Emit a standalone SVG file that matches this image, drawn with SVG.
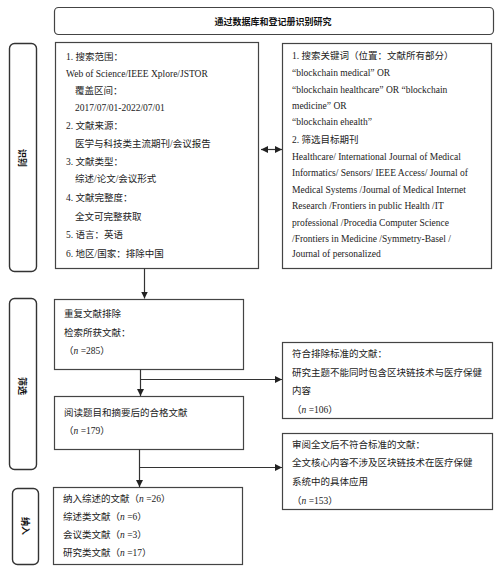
<svg xmlns="http://www.w3.org/2000/svg" width="501" height="571" viewBox="0 0 501 571">
<style>
.box{fill:#fff;stroke:#444;stroke-width:1.2}
.side{fill:#fff;stroke:#333;stroke-width:1.4}
.t{font-family:"Liberation Serif","Noto Sans CJK SC",serif;font-size:9.5px;fill:#222}
.b{font-family:"Noto Sans CJK SC","Liberation Sans",sans-serif;font-size:9px;font-weight:bold;fill:#111}
.c{fill:none;stroke:#333;stroke-width:1.2}
</style>
<defs>
<marker id="ah" viewBox="0 0 10 10" refX="10" refY="5" markerWidth="7" markerHeight="7" orient="auto-start-reverse" markerUnits="userSpaceOnUse">
<path d="M0,0L10,5L0,10z" fill="#222"/>
</marker>
</defs>
<rect width="501" height="571" fill="#fff"/>
<g id="title">
<rect class="box" x="54.5" y="7.5" width="439" height="27" rx="4"/>
<text class="b" x="273" y="25" text-anchor="middle">通过数据库和登记册识别研究</text>
</g>
<g id="side1">
<rect class="side" x="9.5" y="43.5" width="27" height="228" rx="5"/>
<text class="b" transform="translate(19,158) rotate(90)" text-anchor="middle">识别</text>
</g>
<g id="side2">
<rect class="side" x="9.5" y="298.5" width="27" height="171" rx="5"/>
<text class="b" transform="translate(19,386) rotate(90)" text-anchor="middle">筛选</text>
</g>
<g id="side3">
<rect class="side" x="12.5" y="488.5" width="26" height="76" rx="5"/>
<text class="b" transform="translate(22,526) rotate(90)" text-anchor="middle">纳入</text>
</g>
<g id="search">
<rect class="box" x="55.5" y="42.5" width="203" height="226"/>
<text class="t" x="66" y="59.5">1. 搜索范围：</text>
<text class="t" x="66" y="76.5">Web of Science/IEEE Xplore/JSTOR</text>
<text class="t" x="75" y="93.5">覆盖区间：</text>
<text class="t" x="75" y="110.5">2017/07/01-2022/07/01</text>
<text class="t" x="66" y="128.5">2. 文献来源：</text>
<text class="t" x="75" y="146.5">医学与科技类主流期刊/会议报告</text>
<text class="t" x="66" y="164.5">3. 文献类型：</text>
<text class="t" x="75" y="181.5">综述/论文/会议形式</text>
<text class="t" x="66" y="200.5">4. 文献完整度：</text>
<text class="t" x="75" y="219.5">全文可完整获取</text>
<text class="t" x="66" y="237.5">5. 语言：英语</text>
<text class="t" x="66" y="256.5">6. 地区/国家：排除中国</text>
</g>
<g id="keywords">
<rect class="box" x="282.5" y="43.5" width="209" height="225"/>
<text class="t" x="292" y="58.5">1. 搜索关键词（位置：文献所有部分）</text>
<text class="t" x="292" y="75.5">“blockchain medical” OR</text>
<text class="t" x="292" y="92.5">“blockchain healthcare” OR “blockchain</text>
<text class="t" x="292" y="108.5">medicine” OR</text>
<text class="t" x="292" y="124.5">“blockchain ehealth”</text>
<text class="t" x="292" y="142.5">2. 筛选目标期刊</text>
<text class="t" x="292" y="159.5">Healthcare/ International Journal of Medical</text>
<text class="t" x="292" y="175.5">Informatics/ Sensors/ IEEE Access/ Journal of</text>
<text class="t" x="292" y="192.5">Medical Systems /Journal of Medical Internet</text>
<text class="t" x="292" y="208.5">Research /Frontiers in public Health /IT</text>
<text class="t" x="292" y="225.5">professional /Procedia Computer Science</text>
<text class="t" x="292" y="241.5">/Frontiers in Medicine /Symmetry-Basel /</text>
<text class="t" x="292" y="256.5">Journal of personalized</text>
</g>
<g id="dedup">
<rect class="box" x="54.5" y="299.5" width="189" height="70"/>
<text class="t" x="64" y="316.5">重复文献排除</text>
<text class="t" x="64" y="335.5">检索所获文献：</text>
<text class="t" x="64" y="353.5">（<tspan font-style="italic">n</tspan> =285）</text>
</g>
<g id="excl1">
<rect class="box" x="282.5" y="342.5" width="210" height="76"/>
<text class="t" x="292" y="356.5">符合排除标准的文献：</text>
<text class="t" x="292" y="375.5">研究主题不能同时包含区块链技术与医疗保健</text>
<text class="t" x="292" y="393.5">内容</text>
<text class="t" x="292" y="412.5">（<tspan font-style="italic">n</tspan> =106）</text>
</g>
<g id="eligible">
<rect class="box" x="54.5" y="396.5" width="189" height="53"/>
<text class="t" x="64" y="415.5">阅读题目和摘要后的合格文献</text>
<text class="t" x="64" y="433.5">（<tspan font-style="italic">n</tspan> =179）</text>
</g>
<g id="excl2">
<rect class="box" x="282.5" y="433.5" width="210" height="76"/>
<text class="t" x="292" y="447.5">审阅全文后不符合标准的文献：</text>
<text class="t" x="292" y="465.5">全文核心内容不涉及区块链技术在医疗保健</text>
<text class="t" x="292" y="484.5">系统中的具体应用</text>
<text class="t" x="292" y="503.5">（<tspan font-style="italic">n</tspan> =153）</text>
</g>
<g id="included">
<rect class="box" x="53.5" y="487.5" width="189" height="77"/>
<text class="t" x="63" y="501.5">纳入综述的文献（<tspan font-style="italic">n</tspan> =26）</text>
<text class="t" x="63" y="519.5">综述类文献（<tspan font-style="italic">n</tspan> =6）</text>
<text class="t" x="63" y="537.5">会议类文献（<tspan font-style="italic">n</tspan> =3）</text>
<text class="t" x="63" y="555.5">研究类文献（<tspan font-style="italic">n</tspan> =17）</text>
</g>
<g id="connectors">
<path class="c" d="M261,149.5H282" marker-start="url(#ah)" marker-end="url(#ah)"/>
<path class="c" d="M144.5,268.5V298.5" marker-end="url(#ah)"/>
<path class="c" d="M140.5,369.5V396" marker-end="url(#ah)"/>
<path class="c" d="M140.5,379.5H282" marker-end="url(#ah)"/>
<path class="c" d="M139.5,449.5V487" marker-end="url(#ah)"/>
<path class="c" d="M139.5,467.5H282" marker-end="url(#ah)"/>
</g>
</svg>
